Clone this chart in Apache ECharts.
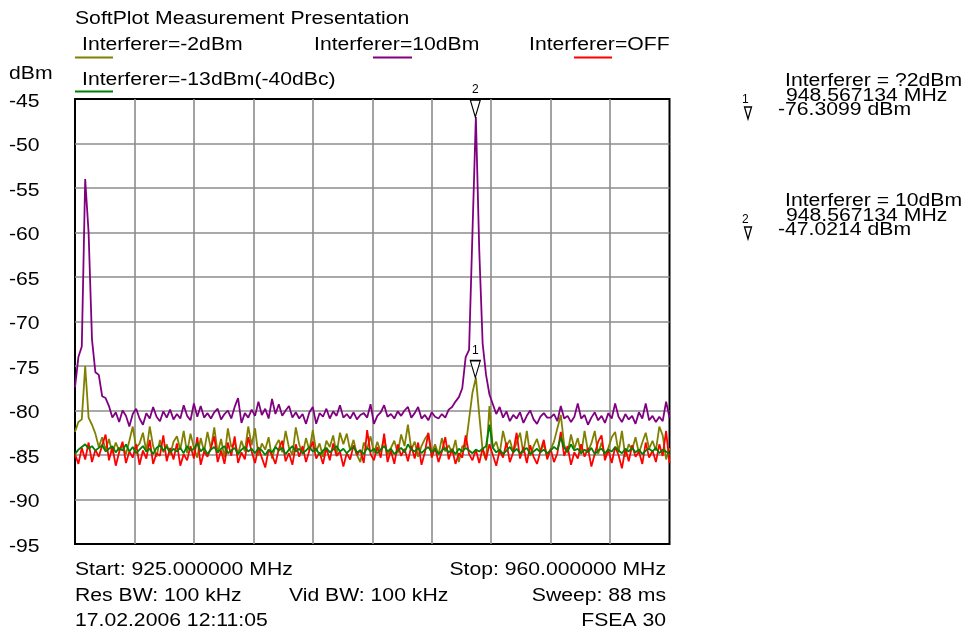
<!DOCTYPE html>
<html>
<head>
<meta charset="utf-8">
<script src="https://cdn.jsdelivr.net/npm/echarts@6.0.0/dist/echarts.min.js"></script>
<style>
html,body{margin:0;padding:0;background:#fff;}
#chart{width:964px;height:633px;}
</style>
</head>
<body>
<div id="chart"></div>
<script>
// ---------- DATA ----------
const startMHz = 925;
const stopMHz = 960;
const sweepStepMHz = 0.2; // trace point spacing
const yMin = -95, yMax = -45, yStep = 5;
const yTickLabels = [-45, -50, -55, -60, -65, -70, -75, -80, -85, -90, -95];

const seriesNames = ['Interferer=-2dBm', 'Interferer=10dBm', 'Interferer=OFF', 'Interferer=-13dBm(-40dBc)'];
const seriesColors = ['#808000', '#800080', '#ff0000', '#008000'];

const olive = [
-82.4,-81.3,-81.0,-75.0,-80.8,-81.6,-82.6,-84.1,-83.0,-84.4,
-83.2,-84.8,-83.6,-84.5,-83.9,-84.9,-83.4,-81.8,-84.2,-83.7,
-82.5,-84.6,-81.8,-84.0,-85.2,-83.3,-84.7,-83.8,-85.0,-83.5,
-82.9,-84.4,-82.3,-84.8,-82.6,-84.2,-85.3,-83.1,-84.6,-82.4,
-84.3,-81.9,-84.8,-83.2,-85.3,-82.0,-84.1,-83.6,-84.9,-83.4,
-84.6,-81.8,-83.9,-82.0,-85.1,-83.7,-84.4,-83.0,-85.4,-84.0,
-83.3,-84.7,-82.3,-84.2,-85.0,-81.9,-83.8,-84.9,-83.1,-84.5,
-82.2,-84.6,-83.7,-85.2,-83.4,-84.1,-82.8,-84.9,-82.5,-83.8,
-82.6,-84.5,-83.3,-85.0,-85.8,-83.6,-84.3,-82.9,-84.8,-83.5,
-84.7,-83.1,-85.0,-84.2,-83.4,-84.8,-82.7,-84.0,-81.6,-84.4,
-83.5,-85.2,-84.0,-83.2,-82.6,-84.7,-83.8,-85.0,-83.1,-84.6,
-83.9,-84.8,-83.3,-85.8,-84.0,-84.0,-81.0,-78.0,-76.3099,-80.5,
-84.5,-85.6,-79.5,-84.2,-83.5,-84.9,-82.3,-84.0,-83.3,-84.7,
-83.6,-82.5,-84.8,-82.3,-85.1,-84.0,-83.2,-84.6,-83.8,-85.2,
-84.4,-83.5,-82.0,-80.5,-83.9,-84.8,-82.7,-84.3,-83.1,-84.9,
-82.3,-84.6,-83.7,-82.3,-84.9,-83.6,-85.1,-84.2,-83.0,-82.4,
-84.7,-82.3,-85.2,-83.8,-84.4,-83.0,-84.8,-83.6,-82.5,-84.3,
-83.4,-84.5,-81.8,-82.8,-85.5,-84.2
];

const purple = [
-77.4,-74.0,-72.8,-54.0,-60.0,-72.0,-75.7,-76.0,-78.4,-78.6,
-79.5,-80.8,-80.2,-81.3,-80.0,-80.6,-81.8,-80.4,-79.8,-80.9,
-81.6,-80.3,-80.9,-79.6,-80.7,-81.2,-80.1,-80.8,-79.9,-81.0,
-80.4,-80.9,-79.4,-80.6,-81.1,-79.2,-80.7,-79.5,-80.8,-80.3,
-80.9,-80.2,-79.8,-81.0,-80.4,-80.0,-80.9,-79.6,-78.6,-81.4,
-80.3,-80.8,-79.9,-80.6,-79.0,-80.5,-79.8,-80.9,-78.7,-80.4,
-79.3,-80.6,-80.0,-79.5,-80.8,-80.2,-80.9,-80.4,-81.5,-80.2,
-79.6,-81.5,-80.3,-80.7,-79.8,-80.9,-80.1,-80.6,-79.4,-80.8,
-80.4,-80.9,-80.2,-81.0,-80.5,-80.3,-80.8,-79.3,-81.5,-80.6,
-80.2,-79.4,-80.7,-80.4,-80.9,-80.1,-80.6,-80.0,-79.6,-80.8,
-80.3,-79.6,-80.9,-80.5,-81.1,-80.2,-80.7,-80.9,-80.4,-80.8,
-79.9,-79.6,-79.0,-78.5,-77.5,-74.0,-73.2,-60.0,-47.0214,-62.0,
-72.5,-76.0,-78.2,-79.3,-80.4,-79.6,-80.8,-80.1,-81.2,-80.5,
-80.9,-80.2,-81.4,-80.6,-80.0,-81.0,-81.5,-80.7,-80.3,-80.8,
-80.8,-80.4,-81.2,-79.5,-80.9,-80.6,-81.3,-80.7,-79.2,-80.9,
-80.5,-81.6,-80.8,-80.2,-81.1,-80.6,-81.4,-80.3,-80.9,-79.2,
-80.7,-81.3,-80.4,-81.0,-80.6,-81.5,-80.2,-80.9,-79.2,-81.1,
-80.6,-81.3,-80.7,-81.2,-79.0,-80.8
];

const red = [
-84.9,-86.0,-84.2,-85.5,-83.6,-85.8,-84.4,-85.2,-83.9,-82.7,
-85.6,-84.1,-86.2,-84.7,-83.5,-85.9,-84.6,-85.3,-83.8,-86.1,
-84.5,-85.4,-83.3,-86.0,-84.8,-85.1,-82.8,-85.7,-84.2,-85.5,
-83.7,-86.2,-84.9,-85.6,-84.0,-85.4,-83.0,-86.1,-84.6,-85.2,
-84.2,-82.9,-85.8,-84.5,-86.0,-83.6,-85.1,-82.9,-85.9,-84.7,
-85.5,-83.0,-84.6,-85.9,-84.1,-85.3,-86.4,-84.4,-85.0,-86.0,
-84.3,-83.4,-85.7,-84.8,-86.1,-83.8,-85.2,-84.0,-85.8,-84.5,
-83.5,-85.4,-84.7,-86.0,-84.2,-85.6,-83.7,-85.1,-84.6,-86.3,
-84.8,-85.5,-83.9,-85.0,-84.4,-85.9,-82.2,-84.9,-85.6,-84.1,
-85.3,-82.6,-85.8,-84.5,-86.0,-83.8,-85.1,-84.3,-85.7,-84.0,
-85.4,-83.6,-86.1,-84.7,-82.5,-85.3,-84.2,-85.8,-84.6,-83.0,
-85.5,-84.3,-86.0,-84.8,-85.3,-82.8,-84.9,-85.6,-84.4,-85.9,
-84.2,-85.5,-83.8,-85.0,-86.2,-84.5,-85.3,-83.6,-85.8,-84.7,
-82.5,-85.4,-84.1,-85.9,-83.9,-85.2,-86.0,-84.6,-83.3,-85.5,
-84.3,-85.8,-84.8,-82.4,-85.1,-84.0,-86.1,-84.7,-85.4,-83.8,
-85.2,-84.2,-86.3,-84.9,-83.5,-82.8,-85.6,-84.4,-85.9,-84.1,
-85.0,-86.5,-84.3,-85.7,-83.9,-85.2,-84.6,-86.0,-83.6,-85.3,
-84.5,-85.8,-83.8,-85.1,-82.3,-85.9
];

const green = [
-84.9,-84.4,-84.1,-83.8,-84.3,-84.0,-84.5,-84.2,-83.9,-84.6,
-84.3,-84.0,-84.7,-84.2,-84.5,-83.8,-84.6,-84.1,-84.8,-84.4,
-84.0,-84.6,-84.3,-84.9,-84.2,-83.9,-84.5,-84.1,-84.7,-84.3,
-84.6,-84.2,-84.8,-84.0,-84.5,-84.3,-83.7,-84.6,-84.2,-84.9,
-84.4,-84.1,-84.7,-84.3,-84.0,-84.8,-84.5,-84.2,-84.9,-84.4,
-84.1,-84.6,-84.3,-84.8,-84.2,-84.5,-85.0,-84.4,-84.7,-84.1,
-84.5,-84.2,-84.9,-84.4,-84.0,-84.6,-84.3,-84.8,-84.5,-84.1,
-84.6,-84.3,-85.0,-84.5,-84.2,-84.7,-84.4,-84.0,-84.6,-84.3,
-84.8,-84.4,-84.1,-84.7,-84.5,-84.9,-84.2,-84.6,-84.3,-84.8,
-84.4,-84.0,-84.6,-84.3,-84.9,-84.5,-84.2,-84.7,-83.8,-84.4,
-84.6,-84.2,-84.8,-84.4,-84.1,-84.7,-84.3,-84.9,-84.5,-84.2,
-84.7,-84.4,-84.9,-84.3,-84.6,-84.2,-84.5,-84.8,-84.4,-84.6,
-84.3,-84.0,-81.6,-84.2,-84.7,-84.4,-84.9,-84.5,-84.1,-84.7,
-84.3,-84.8,-84.5,-84.2,-84.9,-84.6,-84.3,-84.7,-84.4,-84.8,
-84.5,-84.1,-84.4,-83.0,-84.2,-84.6,-83.8,-84.5,-84.3,-84.8,
-84.4,-84.7,-84.2,-84.9,-84.5,-84.3,-84.8,-84.4,-84.6,-84.1,
-84.5,-84.8,-84.3,-84.6,-84.2,-84.7,-84.4,-84.9,-84.5,-84.3,
-84.6,-84.2,-84.8,-84.4,-84.6,-84.9
];

// markers
const markerNumbers = [1, 2];
const markerTrace = [0, 1];
const markerFreqMHz = [948.567134, 948.567134];
const markerLevelDbm = [-76.3099, -47.0214];
const markerTitles = ['Interferer = ?2dBm', 'Interferer = 10dBm'];

const infoLeft = ['Start: 925.000000 MHz', 'Res BW: 100 kHz', '17.02.2006 12:11:05'];
const infoMid = ['', 'Vid BW: 100 kHz', ''];
const infoRight = ['Stop: 960.000000 MHz', 'Sweep: 88 ms', 'FSEA 30'];

const chartTitle = 'SoftPlot Measurement Presentation';
const yUnit = 'dBm';

// ---------- LAYOUT ----------
const FONT = '"Liberation Sans", Arial, Helvetica, sans-serif';
const FS = 17.5;
const SX = 1.21; // horizontal stretch of the lettering
const G = {left: 75, top: 99, width: 594.5, height: 445};

const traces = [olive, purple, red, green];
function toXY(arr) {
  return arr.map((v, i) => [i * sweepStepMHz, v]);
}

const legendPos = [
  {tx: 82, ty: 45, ux0: 75, ux1: 113, uy: 57.5},
  {tx: 314, ty: 45, ux0: 373, ux1: 412, uy: 57.5},
  {tx: 529, ty: 45, ux0: 574, ux1: 612, uy: 57.5},
  {tx: 82, ty: 80, ux0: 75, ux1: 113, uy: 91.5}
];

function txt(list, x, y, s, opt) {
  opt = opt || {};
  list.push({
    type: 'text', x: x, y: y, z: 50, scaleX: opt.sx || SX,
    style: {text: s, fill: '#000', font: (opt.size || FS) + 'px ' + FONT,
      align: opt.align || 'left', verticalAlign: 'middle'}
  });
}
const graphics = [];
txt(graphics, 75, 19, chartTitle);
seriesNames.forEach((n, k) => {
  const p = legendPos[k];
  txt(graphics, p.tx, p.ty, n);
  graphics.push({type: 'line', z: 50, shape: {x1: p.ux0, y1: p.uy, x2: p.ux1, y2: p.uy},
    style: {stroke: seriesColors[k], lineWidth: 2}});
});
txt(graphics, 9, 74, yUnit);

// marker annotation blocks (right)
const blockY = [81.5, 201.5];
markerNumbers.forEach((m, k) => {
  const y0 = blockY[k];
  txt(graphics, 785, y0, markerTitles[k]);
  txt(graphics, 786, y0 + 14.5, markerFreqMHz[k].toFixed(6) + ' MHz');
  txt(graphics, 778, y0 + 28.5, markerLevelDbm[k].toFixed(4) + ' dBm');
  txt(graphics, 742, y0 + 18.5, String(m), {size: 12, sx: 1});
  graphics.push({type: 'polygon', z: 50,
    shape: {points: [[744.5, y0 + 25.5], [751.5, y0 + 25.5], [748, y0 + 37.5]]},
    style: {fill: 'none', stroke: '#000', lineWidth: 1.3}});
});

// bottom info
const infoY = [570, 596, 621];
infoY.forEach((y, r) => {
  txt(graphics, 75, y, infoLeft[r]);
  if (infoMid[r]) txt(graphics, 289, y, infoMid[r]);
  txt(graphics, 666, y, infoRight[r], {align: 'right'});
});

const drawOrder = [1, 0, 2, 3];
const series = drawOrder.map(k => {
  const s = {
    name: seriesNames[k], type: 'line', data: toXY(traces[k]),
    showSymbol: false, symbol: 'none', animation: false,
    lineStyle: {color: seriesColors[k], width: 1.8},
    itemStyle: {color: seriesColors[k]}, z: 3 + drawOrder.indexOf(k)
  };
  const mps = [];
  markerNumbers.forEach((m, j) => {
    if (markerTrace[j] === k) {
      mps.push({coord: [markerFreqMHz[j] - startMHz, markerLevelDbm[j]], value: m});
    }
  });
  if (mps.length) {
    s.markPoint = {
      data: mps, animation: false,
      symbol: 'path://M0,0L10,0L5,17Z', symbolSize: [10, 17], symbolOffset: [0, -8.5],
      itemStyle: {color: '#fff', borderColor: '#000', borderWidth: 1.3},
      label: {show: true, position: 'top', distance: 3, color: '#000', fontSize: 12,
        fontFamily: FONT, formatter: p => String(p.value)},
      z: 20
    };
  }
  return s;
});

const chart = echarts.init(document.getElementById('chart'), null, {renderer: 'canvas'});
chart.setOption({
  backgroundColor: '#fff',
  animation: false,
  grid: {left: G.left, top: G.top, width: G.width, height: G.height, show: true,
    borderColor: '#000', borderWidth: 2, backgroundColor: 'transparent'},
  xAxis: {type: 'value', min: 0, max: stopMHz - startMHz, interval: 3.5,
    axisLine: {show: false}, axisTick: {show: false}, axisLabel: {show: false},
    splitLine: {show: true, showMinLine: false, showMaxLine: false,
      lineStyle: {color: '#8c8c8c', width: 1.6}}},
  yAxis: {type: 'value', min: yMin, max: yMax, interval: yStep,
    axisLine: {show: false}, axisTick: {show: false}, axisLabel: {show: false},
    splitLine: {show: true, showMinLine: false, showMaxLine: false,
      lineStyle: {color: '#8c8c8c', width: 1.6}}},
  series: series,
  graphic: graphics
});

// y tick labels placed through the axis scale (stretched lettering like the rest)
const yLabelGraphics = [];
yTickLabels.forEach(v => {
  const py = chart.convertToPixel({yAxisIndex: 0}, v);
  txt(yLabelGraphics, 9, py + 3, String(v));
});
chart.setOption({graphic: graphics.concat(yLabelGraphics)});
</script>
</body>
</html>
